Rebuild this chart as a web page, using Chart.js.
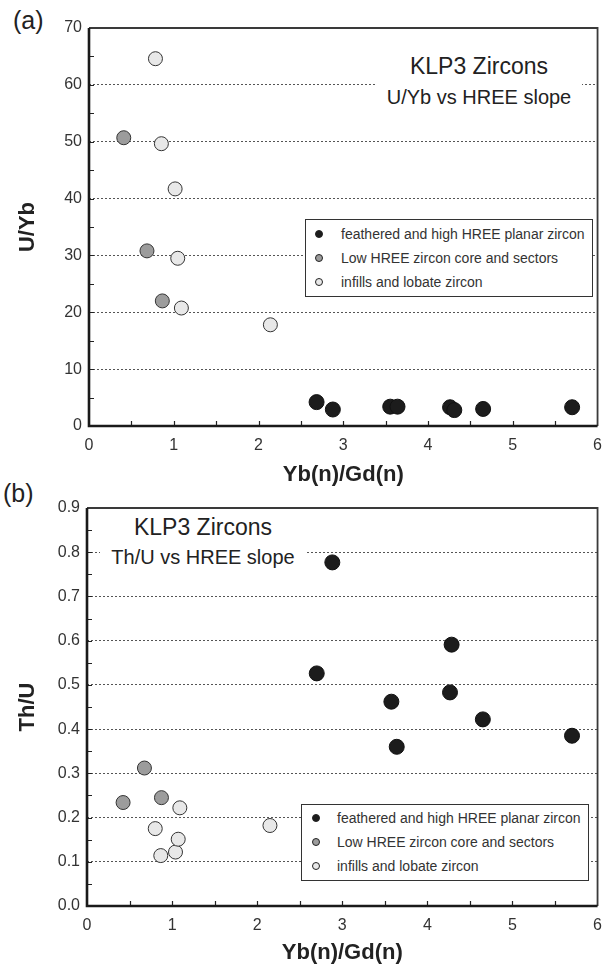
<!DOCTYPE html>
<html>
<head>
<meta charset="utf-8">
<script src="https://cdn.jsdelivr.net/npm/chart.js@4.4.1/dist/chart.umd.min.js"></script>
<style>
  body { margin: 0; background: #fff; font-family: "Liberation Sans", Arial, sans-serif; color: #222; }
  #page { position: relative; width: 612px; height: 967px; overflow: hidden; }
  .panel { position: absolute; left: 0; }
  .tag { position: absolute; font-size: 25px; line-height: 26px; color: #222; }
  .note { position: absolute; background: #fff; text-align: center; color: #222; }
  .note .big { font-size: 23px; line-height: 32px; }
  .note .small { font-size: 20px; line-height: 30px; }
  .legend { position: absolute; background: #fff; border: 1px solid #333; font-size: 14px; color: #333; box-sizing: border-box; }
  .legend div { height: 24px; line-height: 24px; position: relative; white-space: nowrap; }
  .legend span { position: absolute; top: 8px; width: 8px; height: 8px; border-radius: 50%; box-sizing: border-box; border: 1px solid #222; }
</style>
</head>
<body>
<div id="page">
  <div class="tag" style="left:13px; top:7px;">(a)</div>
  <div class="tag" style="left:3px; top:480px;">(b)</div>

  <canvas id="chartA" class="panel" width="612" height="490" style="top:0px;"></canvas>
  <canvas id="chartB" class="panel" width="612" height="477" style="top:490px;"></canvas>

  <div class="note" style="left:376px; top:50px; width:206px; height:68px;">
    <div class="big">KLP3 Zircons</div>
    <div class="small">U/Yb vs HREE slope</div>
  </div>
  <div class="note" style="left:100px; top:511px; width:206px; height:60px;">
    <div class="big">KLP3 Zircons</div>
    <div class="small" style="line-height:28px;">Th/U vs HREE slope</div>
  </div>

  <div id="legendA" class="legend" style="left:305px; top:219px; width:288px; height:78px; padding-top:2px;"></div>
  <div id="legendB" class="legend" style="left:301px; top:804px; width:288px; height:77px; padding-top:1px;"></div>
</div>

<script>
// groups (legend order)
const groupNames = ['feathered and high HREE planar zircon', 'Low HREE zircon core and sectors', 'infills and lobate zircon'];
const groupFill = ['#1c1c1c', '#9c9c9c', '#e8e8e8'];
const groupRadius = [7.5, 7, 7];

// (a) U/Yb vs Yb(n)/Gd(n)
const planarSlopeA = [2.685, 2.877, 3.554, 3.64, 4.26, 4.31, 4.65, 5.70];
const planarUYb    = [4.2, 2.9, 3.4, 3.4, 3.3, 2.8, 3.0, 3.3];
const coreSlopeA   = [0.41, 0.684, 0.865];
const coreUYb      = [50.7, 30.8, 22.0];
const infillSlopeA = [0.784, 0.854, 1.016, 1.047, 1.09, 2.14];
const infillUYb    = [64.6, 49.65, 41.7, 29.5, 20.75, 17.8];

// (b) Th/U vs Yb(n)/Gd(n)
const planarSlopeB = [2.70, 2.883, 3.577, 3.64, 4.266, 4.285, 4.652, 5.70];
const planarThU    = [0.526, 0.777, 0.462, 0.360, 0.483, 0.591, 0.422, 0.385];
const coreSlopeB   = [0.424, 0.675, 0.875];
const coreThU      = [0.234, 0.312, 0.245];
const infillSlopeB = [0.802, 0.867, 1.04, 1.072, 1.091, 2.15];
const infillThU    = [0.175, 0.114, 0.122, 0.151, 0.222, 0.182];

// axis ranges
const xMin = 0, xMax = 6, xStep = 1, xMinor = 0.5;
const yMaxA = 70, yStepA = 10, yMinorA = 5;
const yMaxB = 0.9, yStepB = 0.1, yMinorB = 0.05;

Chart.defaults.font.family = '"Liberation Sans", Arial, sans-serif';
Chart.defaults.color = '#333';

function toPoints(xs, ys) {
    return xs.map((x, i) => ({ x: x, y: ys[i] }));
}

function makeDatasets(series) {
    // series = [[xs, ys], ...] in legend order
    return series.map((s, i) => ({
        label: groupNames[i],
        data: toPoints(s[0], s[1]),
        backgroundColor: groupFill[i],
        borderColor: i == 0 ? '#111' : '#333',
        borderWidth: 1,
        pointRadius: groupRadius[i],
        pointHoverRadius: groupRadius[i]
    }));
}

// frame, axes and inward ticks
const framePlugin = {
    id: 'frame',
    afterDatasetsDraw(chart, args, opts) {
        const { ctx, chartArea: a, scales } = chart;
        const sx = scales.x, sy = scales.y;
        ctx.save();
        ctx.strokeStyle = '#222';
        ctx.lineWidth = 1.2;
        ctx.beginPath();
        let n = Math.round((sx.max - sx.min) / opts.xMinor);
        for (let i = 1; i < n; i++) {
            const px = Math.round(sx.getPixelForValue(sx.min + i * opts.xMinor)) + 0.5;
            ctx.moveTo(px, a.bottom);
            ctx.lineTo(px, a.bottom - 5);
        }
        n = Math.round((sy.max - sy.min) / opts.yMinor);
        for (let i = 1; i < n; i++) {
            const py = Math.round(sy.getPixelForValue(sy.min + i * opts.yMinor)) + 0.5;
            ctx.moveTo(a.left, py);
            ctx.lineTo(a.left + 5, py);
        }
        ctx.stroke();

        // top and right edges
        ctx.strokeStyle = '#3a3a3a';
        ctx.lineWidth = 1.8;
        ctx.beginPath();
        ctx.moveTo(a.left, a.top);
        ctx.lineTo(a.right, a.top);
        ctx.lineTo(a.right, a.bottom);
        ctx.stroke();

        // left and bottom axes
        ctx.strokeStyle = '#1a1a1a';
        ctx.lineWidth = 2.6;
        ctx.beginPath();
        ctx.moveTo(a.left, a.top);
        ctx.lineTo(a.left, a.bottom);
        ctx.lineTo(a.right, a.bottom);
        ctx.stroke();
        ctx.restore();
    }
};

function drawPanel(canvasId, datasets, yMax, yStep, yMinor, yTitle, sizes) {
    const ctx = document.getElementById(canvasId).getContext('2d');
    return new Chart(ctx, {
        type: 'scatter',
        data: { datasets: datasets },
        plugins: [framePlugin],
        options: {
            responsive: false,
            animation: false,
            layout: { padding: { left: 0, right: sizes.right, top: sizes.top, bottom: 0 } },
            scales: {
                x: {
                    type: 'linear',
                    min: xMin,
                    max: xMax,
                    afterFit: (scale) => { scale.height = sizes.xHeight; },
                    ticks: { stepSize: xStep, padding: 10, font: { size: 16 }, color: '#333' },
                    grid: { display: false, drawTicks: false },
                    border: { display: false },
                    title: {
                        display: true,
                        text: 'Yb(n)/Gd(n)',
                        font: { size: 22, weight: 'bold' },
                        color: '#222',
                        padding: { top: 0, bottom: sizes.titlePad }
                    }
                },
                y: {
                    type: 'linear',
                    min: 0,
                    max: yMax,
                    afterFit: (scale) => { scale.width = sizes.yWidth; },
                    ticks: {
                        stepSize: yStep,
                        padding: 7,
                        font: { size: 16 },
                        color: '#333',
                        callback: (v) => yStep < 1 ? v.toFixed(1) : v
                    },
                    grid: {
                        drawTicks: false,
                        lineWidth: 1,
                        color: (c) => {
                            const v = c.tick ? c.tick.value : 0;
                            return (Math.abs(v) < 1e-9 || Math.abs(v - yMax) < 1e-9) ? 'rgba(0,0,0,0)' : '#555';
                        }
                    },
                    border: { display: false, dash: [2, 2] },
                    title: {
                        display: true,
                        text: yTitle,
                        font: { size: 22, weight: 'bold' },
                        color: '#222',
                        padding: { top: 15, bottom: 0 }
                    }
                }
            },
            plugins: {
                legend: { display: false },
                tooltip: { enabled: false },
                frame: { xMinor: xMinor, yMinor: yMinor }
            }
        }
    });
}

function fillLegend(chart, boxId, markLeft, textLeft) {
    // legend rows built from the chart's datasets
    const box = document.getElementById(boxId);
    chart.data.datasets.forEach(ds => {
        const row = document.createElement('div');
        row.style.paddingLeft = textLeft + 'px';
        const dot = document.createElement('span');
        dot.style.left = markLeft + 'px';
        dot.style.background = ds.backgroundColor;
        row.appendChild(dot);
        row.appendChild(document.createTextNode(ds.label));
        box.appendChild(row);
    });
}

const chartA = drawPanel('chartA',
    makeDatasets([[planarSlopeA, planarUYb], [coreSlopeA, coreUYb], [infillSlopeA, infillUYb]]),
    yMaxA, yStepA, yMinorA, 'U/Yb',
    { top: 28, right: 6, xHeight: 64, yWidth: 89, titlePad: 2 });

const chartB = drawPanel('chartB',
    makeDatasets([[planarSlopeB, planarThU], [coreSlopeB, coreThU], [infillSlopeB, infillThU]]),
    yMaxB, yStepB, yMinorB, 'Th/U',
    { top: 18, right: 7, xHeight: 61, yWidth: 87, titlePad: 1 });

fillLegend(chartA, 'legendA', 9, 35);
fillLegend(chartB, 'legendB', 10, 35);
</script>
</body>
</html>
